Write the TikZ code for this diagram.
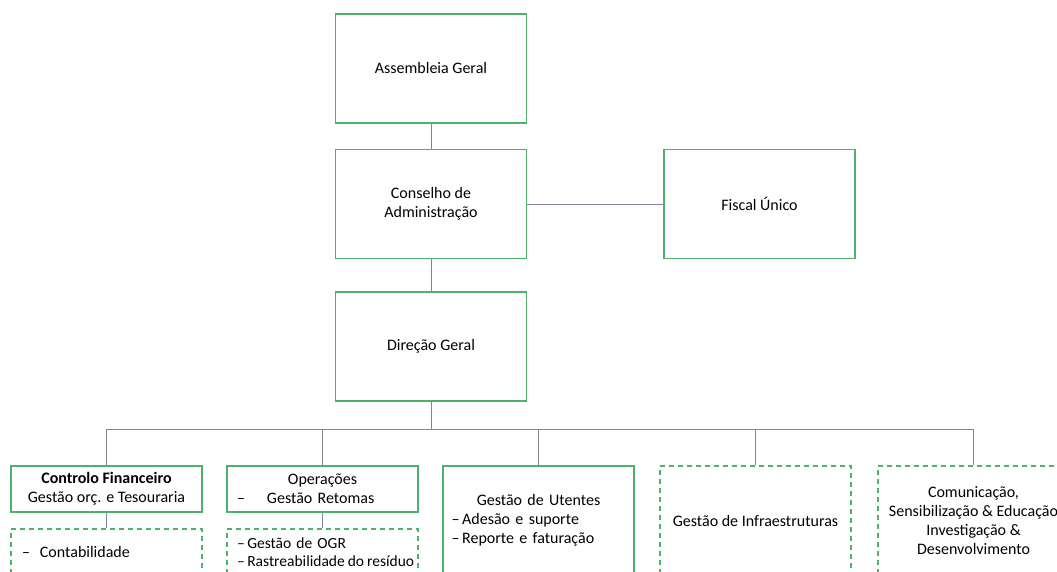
\documentclass[tikz,border=0pt]{standalone}
\usepackage{fontspec}
\setmainfont{Carlito}
\usepackage{xcolor}
\usetikzlibrary{positioning}

\definecolor{boxgreen}{RGB}{76,178,110}
\definecolor{linegray}{RGB}{128,133,158}

\begin{document}
\begin{tikzpicture}[x=1pt,y=-1pt]
% 1 = 1px of the page, y grows downwards
    \def\XMAIN{431}    % centre of the main column
    \def\XFISCAL{759.5}
    \def\BOXW{191pt}   % width of all boxes
    \def\BOXH{109pt}   % height of the big boxes
    \def\LOWH{46pt}    % height of the small boxes
    \def\BUSY{429}     % horizontal line to the departments
    \def\YDEPT{489}
    \def\YBIG{520.5}
    \def\YSUB{552}

    \tikzset{
      orgbox/.style={draw=boxgreen, line width=1.3pt, fill=white,
        minimum width=\BOXW, minimum height=\BOXH, inner sep=0pt,
        align=center, font=\fontsize{16}{19}\selectfont},
      lowbox/.style={orgbox, minimum height=\LOWH},
      openbox/.style={dash pattern=on 5pt off 4pt},
      link/.style={draw=linegray, line width=0.9pt},
    }

    \useasboundingbox (0,0) rectangle (1057,572);
    \clip (0,0) rectangle (1057,572);

    % TOP OF THE TREE
    \node[orgbox] (assembleia) at (\XMAIN,68.5) {Assembleia Geral};
    \node[orgbox] (conselho) at (\XMAIN,204) {Conselho de\\Administração};
    \node[orgbox] (fiscal) at (\XFISCAL,204) {Fiscal Único};
    \node[orgbox] (direcao) at (\XMAIN,346.5) {Direção Geral};
    \coordinate (bus) at (\XMAIN,\BUSY);

    % DEPARTMENTS
    \node[lowbox] (controlo) at (106.5,\YDEPT)
        {\textbf{Controlo Financeiro}\\Gestão orç. e Tesouraria};
    \node[lowbox, align=left, text width=171pt] (operacoes) at (322.5,\YDEPT)
        {\makebox[171pt]{Operações}\\–\hspace{22pt}Gestão Retomas};
    \node[orgbox, align=left, text width=174pt] (utentes) at (538.5,\YBIG)
        {\makebox[174pt]{Gestão de Utentes}\\–\,Adesão e suporte\\–\,Reporte e faturação};
    \node[orgbox, openbox] (infra) at (755.5,\YBIG) {Gestão de Infraestruturas};
    \node[orgbox, openbox] (comunicacao) at (973.5,\YBIG)
        {Comunicação,\\Sensibilização \& Educação\\Investigação \&\\Desenvolvimento};

    % UNDER THE DEPARTMENTS
    \node[lowbox, openbox, align=left, text width=169pt] (contab) at (106.5,\YSUB)
        {–\hspace{10pt}Contabilidade};
    \node[lowbox, openbox, align=left, text width=171pt,
          font=\fontsize{15.5}{18}\selectfont] (ogr) at (322.5,\YSUB)
        {\mbox{–\,Gestão de OGR}\\\mbox{–\,Rastreabilidade\hspace{3pt}do\hspace{3pt}resíduo}};

    % CONNECTORS
    \draw[link] (assembleia) -- (conselho);
    \draw[link] (conselho) -- (fiscal);
    \draw[link] (conselho) -- (direcao);
    \draw[link] (direcao) -- (bus);
    \foreach \dept in {controlo,operacoes,utentes,infra,comunicacao}
        \draw[link] (bus) -| (\dept.north);
    \draw[link] (controlo) -- (contab);
    \draw[link] (operacoes) -- (ogr);

\end{tikzpicture}
\end{document}
